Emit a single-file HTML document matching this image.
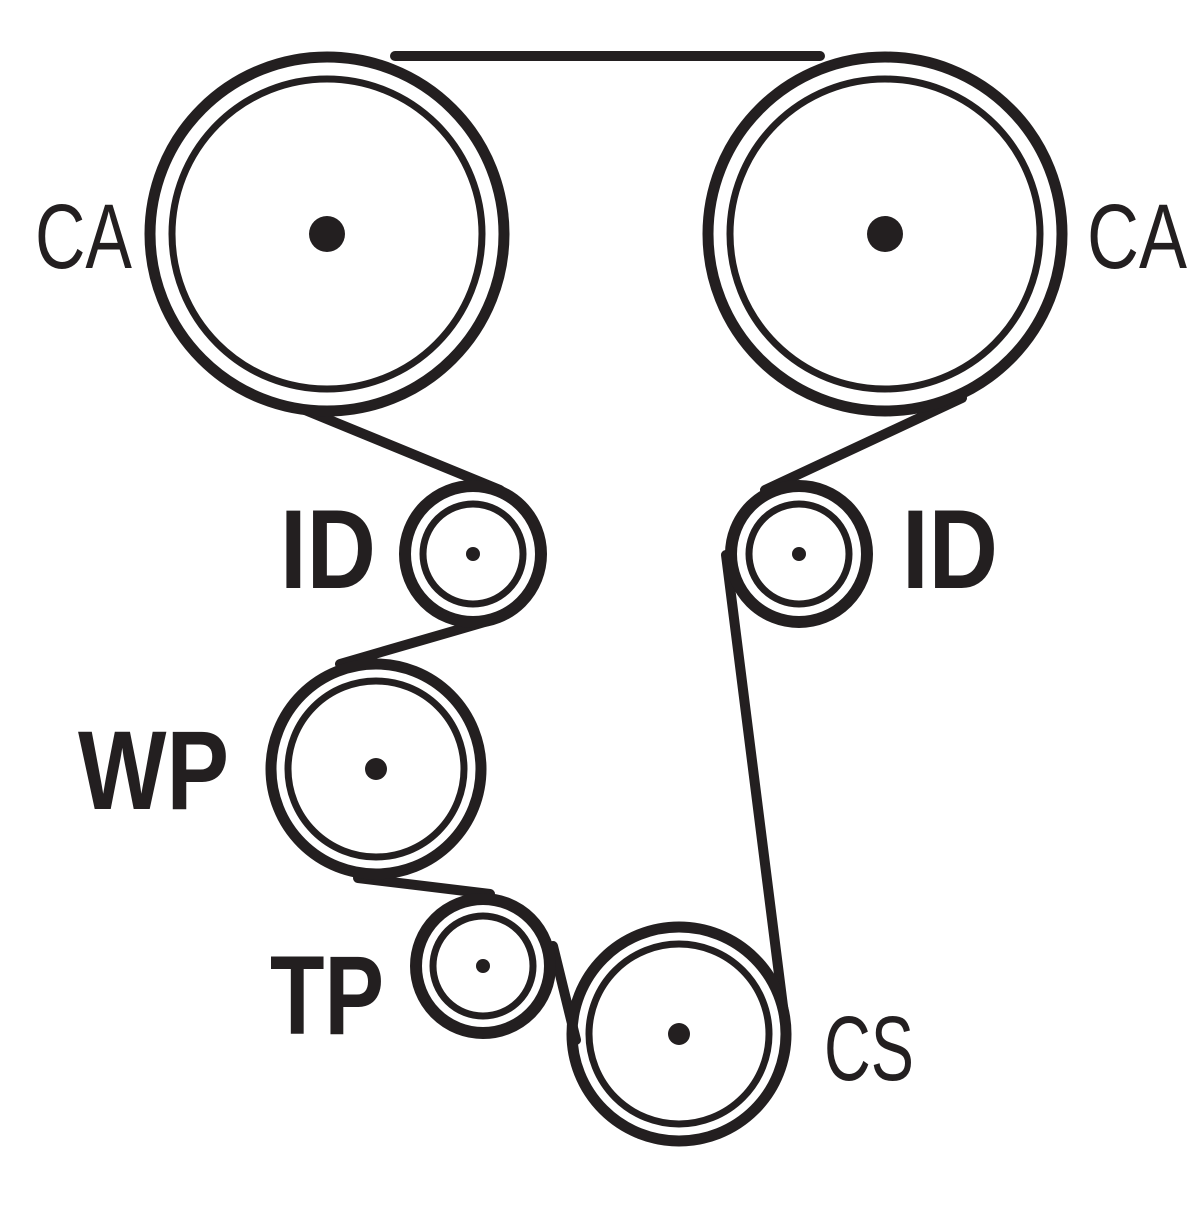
<!DOCTYPE html>
<html><head><style>html,body{margin:0;padding:0;background:#fff}</style></head>
<body>
<svg width="1200" height="1200" viewBox="0 0 1200 1200" xmlns="http://www.w3.org/2000/svg">
<rect width="1200" height="1200" fill="#fff"/>
<g fill="none" stroke="#231f20" stroke-linecap="round">
<!-- belt lines -->
<line x1="395" y1="56" x2="820" y2="56" stroke-width="10"/>
<line x1="305" y1="410" x2="500" y2="490" stroke-width="10"/>
<line x1="495" y1="619" x2="340" y2="664" stroke-width="10"/>
<line x1="358" y1="878" x2="490" y2="894" stroke-width="10"/>
<line x1="553" y1="946" x2="576" y2="1040" stroke-width="10"/>
<line x1="786" y1="1030" x2="726" y2="555" stroke-width="10"/>
<line x1="765" y1="490" x2="962" y2="398" stroke-width="10"/>
<!-- CA left -->
<circle cx="327" cy="234" r="177" stroke-width="11"/>
<circle cx="327" cy="234" r="155" stroke-width="7"/>
<!-- CA right -->
<circle cx="885" cy="234" r="177" stroke-width="11"/>
<circle cx="885" cy="234" r="155" stroke-width="7"/>
<!-- ID left -->
<circle cx="473" cy="554" r="68" stroke-width="12"/>
<circle cx="473" cy="554" r="50" stroke-width="7"/>
<!-- ID right -->
<circle cx="799" cy="554" r="68" stroke-width="12"/>
<circle cx="799" cy="554" r="50" stroke-width="7"/>
<!-- WP -->
<circle cx="376" cy="769" r="105" stroke-width="11"/>
<circle cx="376" cy="769" r="88" stroke-width="7"/>
<!-- TP -->
<circle cx="483" cy="966" r="67" stroke-width="12"/>
<circle cx="483" cy="966" r="50" stroke-width="7"/>
<!-- CS -->
<circle cx="679" cy="1034" r="107" stroke-width="11"/>
<circle cx="679" cy="1034" r="90" stroke-width="7"/>
</g>
<g fill="#231f20">
<circle cx="327" cy="234" r="18"/>
<circle cx="885" cy="234" r="18"/>
<circle cx="473" cy="554" r="7"/>
<circle cx="799" cy="554" r="7"/>
<circle cx="376" cy="769" r="11"/>
<circle cx="483" cy="966" r="7"/>
<circle cx="679" cy="1034" r="11"/>
</g>
<g fill="#231f20" font-family="Liberation Sans, sans-serif">
<text x="35" y="268" font-size="92" textLength="97" lengthAdjust="spacingAndGlyphs">CA</text>
<text x="1087" y="268" font-size="92" textLength="100" lengthAdjust="spacingAndGlyphs">CA</text>
<text x="280" y="588" font-size="112" font-weight="bold" textLength="96" lengthAdjust="spacingAndGlyphs">ID</text>
<text x="902" y="588" font-size="112" font-weight="bold" textLength="96" lengthAdjust="spacingAndGlyphs">ID</text>
<text x="78" y="809" font-size="112" font-weight="bold" textLength="151" lengthAdjust="spacingAndGlyphs">WP</text>
<text x="270" y="1034" font-size="112" font-weight="bold" textLength="114" lengthAdjust="spacingAndGlyphs">TP</text>
<text x="824" y="1080" font-size="92" textLength="90" lengthAdjust="spacingAndGlyphs">CS</text>
</g>
</svg>
</body></html>
